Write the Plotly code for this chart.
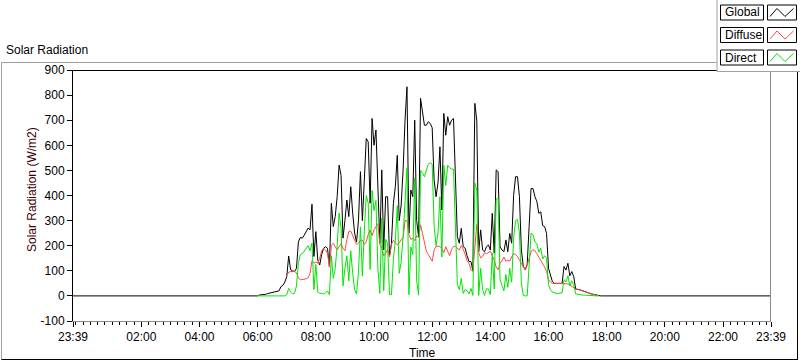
import plotly.graph_objects as go
import pandas as pd

# ---------------- data (W/m2), 4-minute samples starting 05:52 ----------------
DAY_START = "2024-01-01 23:39"
DAY_END = "2024-01-02 23:39"
SAMPLE_START = "2024-01-02 05:52"
SAMPLE_FREQ = "4min"
NIGHT_VALUE = 0

global_wm2 = [
    0, 0, 0, 4, 4, 4, 6, 9, 11, 11,
    13, 16, 17, 20, 37, 42, 55, 77, 159, 104,
    100, 97, 110, 215, 233, 230, 242, 256, 270, 263,
    365, 157, 256, 143, 123, 165, 190, 196, 190, 117,
    369, 276, 316, 395, 521, 480, 230, 300, 382, 316,
    435, 330, 250, 215, 303, 495, 300, 462, 627, 614,
    369, 707, 600, 661, 400, 210, 502, 183, 395, 395,
    160, 210, 369, 435, 560, 300, 362, 502, 700, 833,
    250, 422, 395, 700, 300, 236, 787, 740, 680, 680,
    694, 687, 670, 462, 395, 450, 594, 342, 727, 640,
    714, 680, 700, 707, 500, 236, 210, 269, 196, 190,
    160, 137, 137, 100, 767, 700, 176, 263, 183, 176,
    196, 203, 183, 329, 170, 502, 495, 196, 183, 176,
    223, 176, 249, 210, 400, 475, 475, 395, 183, 117,
    104, 125, 276, 428, 428, 395, 376, 329, 335, 280,
    276, 249, 110, 80, 57, 50, 50, 50, 50, 50,
    117, 103, 130, 80, 97, 77, 27, 27, 25, 22,
    20, 17, 14, 11, 8, 6, 4, 2, 0, 0, 0,
]

diffuse_wm2 = [
    None, None, None, None, None, None, None, None, None, None,
    None, None, None, None, None, None, None, 80, 95, 97,
    97, 97, 92, 72, 64, 65, 66, 68, 72, 90,
    140, 130, 135, 130, 150, 180, 190, 183, 170, 115,
    200, 210, 196, 183, 196, 208, 190, 180, 225, 256,
    258, 240, 220, 205, 210, 222, 222, 205, 215, 245,
    262, 240, 263, 278, 288, 205, 190, 160, 170, 185,
    155, 205, 222, 212, 203, 210, 225, 230, 300, 300,
    245, 225, 230, 220, 240, 232, 283, 249, 205, 178,
    165, 148, 138, 183, 197, 198, 197, 188, 172, 196,
    180, 160, 185, 197, 197, 190, 183, 200, 186, 165,
    140, 130, 104, 98, 200, 285, 172, 152, 157, 172,
    168, 175, 178, 160, 143, 115, 104, 130, 140, 155,
    138, 142, 138, 155, 168, 165, 157, 142, 130, 115,
    104, 122, 155, 177, 184, 180, 168, 155, 145, 133,
    115, 97, 65, 55, 50, 50, 50, 50, 50, 50,
    50, 50, 48, 44, 37, 30, 27, 26, 24, 22,
    20, 17, 14, 11, 8, 6, 4, 2, 0, None, None,
]

direct_wm2 = [
    None, None, 0, 0, 0, 0, 0, 0, 0, 0,
    0, 0, 0, 0, 0, 0, 0, 5, 30, 15,
    8, 10, 40, 130, 165, 168, 178, 190, 200, 180,
    210, 25, 125, 15, 10, 10, 8, 12, 20, 5,
    160, 70, 110, 200, 330, 270, 40, 110, 160, 60,
    180, 90, 25, 8, 95, 275, 80, 260, 400, 370,
    105, 420, 340, 380, 110, 10, 310, 20, 225, 210,
    5, 5, 145, 220, 360, 90, 135, 240, 400, 510,
    5, 195, 165, 470, 60, 3, 500, 490, 475, 500,
    525, 530, 525, 280, 200, 250, 395, 155, 520, 440,
    520, 510, 505, 505, 300, 45, 25, 70, 10, 25,
    20, 8, 30, 2, 450, 420, 2, 110, 25, 2,
    28, 28, 5, 170, 27, 385, 390, 65, 42, 20,
    85, 34, 110, 55, 230, 300, 305, 250, 52, 2,
    0, 0, 120, 250, 244, 215, 208, 174, 190, 147,
    160, 150, 45, 25, 15, 12, 10, 10, 10, 12,
    65, 55, 80, 40, 60, 45, 8, 6, 5, 4,
    3, 3, 2, 2, 1, 1, 0, 0, 0, None, None,
]

x_tick_times = [DAY_START, "2024-01-02 02:00", "2024-01-02 04:00", "2024-01-02 06:00",
                "2024-01-02 08:00", "2024-01-02 10:00", "2024-01-02 12:00", "2024-01-02 14:00",
                "2024-01-02 16:00", "2024-01-02 18:00", "2024-01-02 20:00", "2024-01-02 22:00",
                DAY_END]
x_tick_labels = ["23:39", "02:00", "04:00", "06:00", "08:00", "10:00", "12:00",
                 "14:00", "16:00", "18:00", "20:00", "22:00", "23:39"]
y_tick_values = [-100, 0, 100, 200, 300, 400, 500, 600, 700, 800, 900]
y_tick_labels = ["-100", "0", "100", "200", "300", "400", "500", "600", "700", "800", "900"]

series_names = ["Global", "Diffuse", "Direct"]
series_colors = ["#000000", "#ff4848", "#00e600"]

# ---------------- build ----------------
times = list(pd.date_range(SAMPLE_START, periods=len(global_wm2), freq=SAMPLE_FREQ))
t_start = pd.Timestamp(DAY_START)
t_end = pd.Timestamp(DAY_END)

FONT = "Liberation Sans, Arial, sans-serif"
W, H = 800, 361
PL, PR, PT, PB = 73, 771, 70, 321  # plot area in pixels


def px(x):
    return (x - PL) / (PR - PL)


def py(y):
    return (PB - y) / (PB - PT)


fig = go.Figure()
fig.add_trace(go.Scatter(x=[t_start] + times + [t_end],
                         y=[NIGHT_VALUE] + global_wm2 + [NIGHT_VALUE],
                         mode="lines", line=dict(color=series_colors[0], width=1),
                         name=series_names[0], showlegend=False))
fig.add_trace(go.Scatter(x=times, y=diffuse_wm2, mode="lines",
                         line=dict(color=series_colors[1], width=1),
                         name=series_names[1], showlegend=False))
fig.add_trace(go.Scatter(x=times, y=direct_wm2, mode="lines",
                         line=dict(color=series_colors[2], width=1),
                         name=series_names[2], showlegend=False))

minor_ticks = list(pd.date_range("2024-01-01 23:45", "2024-01-02 23:30", freq="15min"))

fig.update_xaxes(type="date", range=[t_start, t_end], showgrid=False, zeroline=False,
                 tickmode="array", tickvals=x_tick_times, ticktext=x_tick_labels,
                 ticks="outside", ticklen=5, tickwidth=1, tickcolor="#000000",
                 showline=True, linecolor="#8a8a8a", linewidth=1,
                 tickfont=dict(family=FONT, size=12, color="#000000"),
                 minor=dict(tickvals=minor_ticks, ticks="outside", ticklen=3,
                            tickwidth=1, tickcolor="#000000", showgrid=False))
fig.update_yaxes(range=[-100, 900], showgrid=False, zeroline=False,
                 tickmode="array", tickvals=y_tick_values, ticktext=y_tick_labels,
                 ticks="outside", ticklen=5, tickwidth=1, tickcolor="#000000",
                 showline=True, linecolor="#000000", linewidth=1,
                 tickfont=dict(family=FONT, size=12, color="#000000"))

shapes = []


def line(x0, y0, x1, y1, color, width=1):
    shapes.append(dict(type="line", xref="paper", yref="paper",
                       x0=px(x0), y0=py(y0), x1=px(x1), y1=py(y1),
                       line=dict(color=color, width=width), layer="above"))


# outer frame
line(1.5, 62.5, 798, 62.5, "#a0a0a0")
line(1.5, 62.5, 1.5, 359.5, "#a0a0a0")
line(1.5, 359.5, 798, 359.5, "#000000")
line(797.5, 62.5, 797.5, 359.5, "#000000")
# plot borders (top black, right gray)
line(PL, PT + 0.5, PR, PT + 0.5, "#000000")
line(PR - 0.5, PT, PR - 0.5, PB, "#8a8a8a")

# legend panel
shapes.append(dict(type="rect", xref="paper", yref="paper",
                   x0=px(717), y0=py(71.5), x1=px(801), y1=py(-1),
                   fillcolor="#ffffff", line=dict(color="#a0a0a0", width=1), layer="above"))
legend_rows = [(5, 20), (27.5, 42.5), (50, 65)]
annotations = []
for (y0, y1), name, color in zip(legend_rows, series_names, series_colors):
    shapes.append(dict(type="rect", xref="paper", yref="paper",
                       x0=px(720.5), y0=py(y1), x1=px(763.5), y1=py(y0),
                       fillcolor="#ffffff", line=dict(color="#000000", width=1), layer="above"))
    shapes.append(dict(type="rect", xref="paper", yref="paper",
                       x0=px(767.5), y0=py(y1), x1=px(796.5), y1=py(y0),
                       fillcolor="#ffffff", line=dict(color="#000000", width=1), layer="above"))
    yt, yb = y0 + 3.5, y1 - 3.5
    pts = [(770, yb), (777, yt), (785, yb), (793.5, yt)]
    path = "M " + " L ".join(f"{px(a):.5f},{py(b):.5f}" for a, b in pts)
    shapes.append(dict(type="path", xref="paper", yref="paper", path=path,
                       line=dict(color=color, width=1), layer="above"))
    annotations.append(dict(text=name, xref="paper", yref="paper",
                            x=px(722.5), y=py((y0 + y1) / 2), xanchor="left", yanchor="middle",
                            showarrow=False, font=dict(family=FONT, size=12, color="#000000")))

annotations.append(dict(text="Solar Radiation", xref="paper", yref="paper",
                        x=px(4), y=py(50), xanchor="left", yanchor="middle", showarrow=False,
                        font=dict(family=FONT, size=12, color="#000000")))
annotations.append(dict(text="Solar Radiation (W/m2)", xref="paper", yref="paper",
                        x=px(32), y=py(190), xanchor="center", yanchor="middle",
                        textangle=-90, showarrow=False,
                        font=dict(family=FONT, size=12, color="#3a0000")))
annotations.append(dict(text="Time", xref="paper", yref="paper",
                        x=px(422), y=py(353), xanchor="center", yanchor="middle",
                        showarrow=False, font=dict(family=FONT, size=12, color="#000000")))

fig.update_layout(width=W, height=H, margin=dict(l=PL, r=W - PR, t=PT, b=H - PB),
                  paper_bgcolor="#ffffff", plot_bgcolor="#ffffff",
                  showlegend=False, shapes=shapes, annotations=annotations)

fig.write_html("out.html", config={"displayModeBar": False},
               post_script="document.body.style.margin='0';document.body.style.overflow='hidden';")
